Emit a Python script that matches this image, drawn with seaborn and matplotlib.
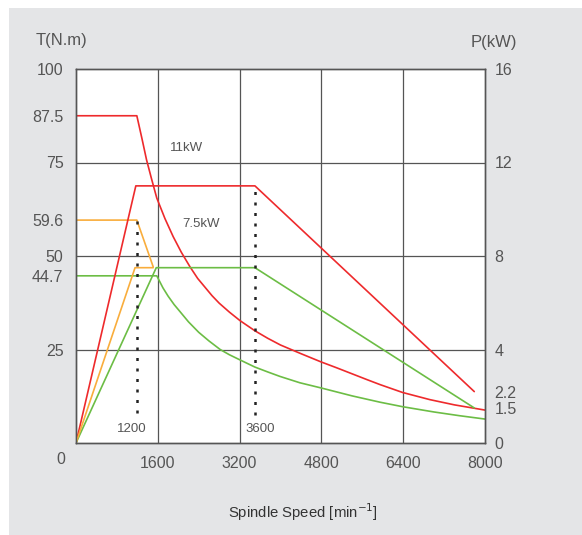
import matplotlib
matplotlib.use('Agg')
import matplotlib.pyplot as plt
from matplotlib.patches import Rectangle
import seaborn as sns

# speed in min^-1, torque in N.m, power in kW
red_t_speed = [0, 1190, 1290, 1380, 1480, 1580, 1740, 1900, 2060, 2230, 2380, 2520, 2660, 2800, 3000,
               3210, 3500, 3750, 4000, 4380, 4790, 5100, 5400, 5700, 5950, 6390, 6920, 7400, 8000]
red_t_torque = [87.5, 87.5, 81.4, 75.7, 70.5, 65.5, 60.0, 55.2, 51.0, 47.1, 44.0, 41.7, 39.4, 37.4, 35.0,
                32.7, 30.0, 28.0, 26.2, 24.0, 21.7, 20.1, 18.5, 16.9, 15.6, 13.5, 11.6, 10.2, 8.8]

green_t_speed = [0, 1580, 1700, 1800, 1920, 2030, 2200, 2400, 2600, 2820, 3000, 3210, 3500, 3750,
                 3990, 4380, 4800, 5400, 5950, 6390, 7000, 7500, 8000]
green_t_torque = [44.7, 44.7, 41.5, 39.3, 37.0, 35.2, 32.4, 29.6, 27.3, 25.0, 23.6, 22.2, 20.3, 19.0,
                  17.8, 16.1, 14.7, 12.6, 10.9, 9.7, 8.3, 7.3, 6.4]

orange_t_speed = [0, 1190, 1510]
orange_t_torque = [59.6, 59.6, 47.1]

red_p_speed = [0, 1170, 3500, 7790]
red_p_power = [0, 11, 11, 2.2]

green_p_speed = [0, 1570, 3500, 7790]
green_p_power = [0, 7.5, 7.5, 1.5]

orange_p_speed = [0, 1155, 1510]
orange_p_power = [0, 7.5, 7.5]

dot_speed = [1190, 3500]
dot_top = [59.6, 68.8]
dot_bottom = [8.0, 7.5]
dot_labels = ['1200', '3600']
dot_label_x = [1090, 3600]

x_ticks = [1600, 3200, 4800, 6400, 8000]
t_ticks = [25, 44.7, 50, 59.6, 75, 87.5, 100]
t_tick_labels = ['25', '44.7', '50', '59.6', '75', '87.5', '100']
p_ticks = [0, 1.5, 2.2, 4, 8, 12, 16]
p_tick_labels = ['0', '1.5', '2.2', '4', '8', '12', '16']
x_grid = [1600, 3200, 4800, 6400]
t_grid = [25, 50, 75]

RED = '#ee2a2c'
GREEN = '#6cbd45'
ORANGE = '#f9ad3c'
GRID = '#555555'
TXT = '#555555'
BG = '#e4e5e7'

sns.set_style('white')
plt.rcParams['font.family'] = ['Liberation Sans', 'DejaVu Sans']

fig = plt.figure(figsize=(5.82, 5.35), dpi=100, facecolor='white')
fig.patches.append(Rectangle((9 / 582, 0), 1, 527 / 535, transform=fig.transFigure,
                             facecolor=BG, edgecolor='none', zorder=-10))
ax = fig.add_axes([76 / 582, 1 - 443 / 535, 409 / 582, 374 / 535])
ax.set_facecolor('white')
ax2 = ax.twinx()

for x in x_grid:
    ax.axvline(x, color=GRID, lw=0.9, zorder=1)
for y in t_grid:
    ax.axhline(y, color=GRID, lw=0.9, zorder=1)

lw = 1.2
sns.lineplot(x=red_t_speed, y=red_t_torque, ax=ax, color=RED, lw=lw, sort=False, estimator=None)
sns.lineplot(x=green_t_speed, y=green_t_torque, ax=ax, color=GREEN, lw=lw, sort=False, estimator=None)
sns.lineplot(x=orange_t_speed, y=orange_t_torque, ax=ax, color=ORANGE, lw=lw, sort=False, estimator=None)
sns.lineplot(x=red_p_speed, y=red_p_power, ax=ax2, color=RED, lw=lw, sort=False, estimator=None)
sns.lineplot(x=green_p_speed, y=green_p_power, ax=ax2, color=GREEN, lw=lw, sort=False, estimator=None)
sns.lineplot(x=orange_p_speed, y=orange_p_power, ax=ax2, color=ORANGE, lw=lw, sort=False, estimator=None)

for x, y0, y1 in zip(dot_speed, dot_bottom, dot_top):
    ax2.plot([x, x], [y0 * 0.16, y1 * 0.16], color='#222222', lw=1.8,
             linestyle=(0, (1.2, 3.0)), zorder=5)
for x, lab in zip(dot_label_x, dot_labels):
    ax.text(x, 3.7, lab, ha='center', va='center', fontsize=9.5, color=TXT)

ax.text(2160, 79, '11kW', ha='center', va='center', fontsize=9.5, color=TXT)
ax.text(2440, 58.6, '7.5kW', ha='center', va='center', fontsize=9.5, color=TXT)

ax.set_xlim(0, 8000)
ax.set_ylim(0, 100)
ax2.set_ylim(0, 16)
ax.set_xticks(x_ticks)
ax.set_xticklabels([str(v) for v in x_ticks])
ax.set_yticks(t_ticks)
ax.set_yticklabels(t_tick_labels)
ax2.set_yticks(p_ticks)
ax2.set_yticklabels(p_tick_labels)
ax.tick_params(axis='x', length=0, pad=9, labelsize=11.5, labelcolor=TXT)
ax.tick_params(axis='y', length=0, pad=9, labelsize=11.5, labelcolor=TXT)
ax2.tick_params(axis='y', length=0, pad=7, labelsize=11.5, labelcolor=TXT)
ax.text(-0.037, -0.043, '0', transform=ax.transAxes, ha='center', va='center',
        fontsize=11.5, color=TXT)
ax.set_xlabel('')
ax.set_ylabel('')
ax2.set_ylabel('')

for a in (ax, ax2):
    for s in a.spines.values():
        s.set_visible(True)
        s.set_color(GRID)
        s.set_linewidth(1.0)

fig.text(62 / 582, 1 - 40 / 535, 'T(N.m)', ha='center', va='center', fontsize=12, color=TXT)
fig.text(494 / 582, 1 - 42 / 535, 'P(kW)', ha='center', va='center', fontsize=12, color=TXT)
fig.text(303 / 582, 1 - 512 / 535, 'Spindle Speed [min$^{-1}$]', ha='center', va='center',
         fontsize=10.7, color='#333333')

fig.savefig('out.png', dpi=100)
